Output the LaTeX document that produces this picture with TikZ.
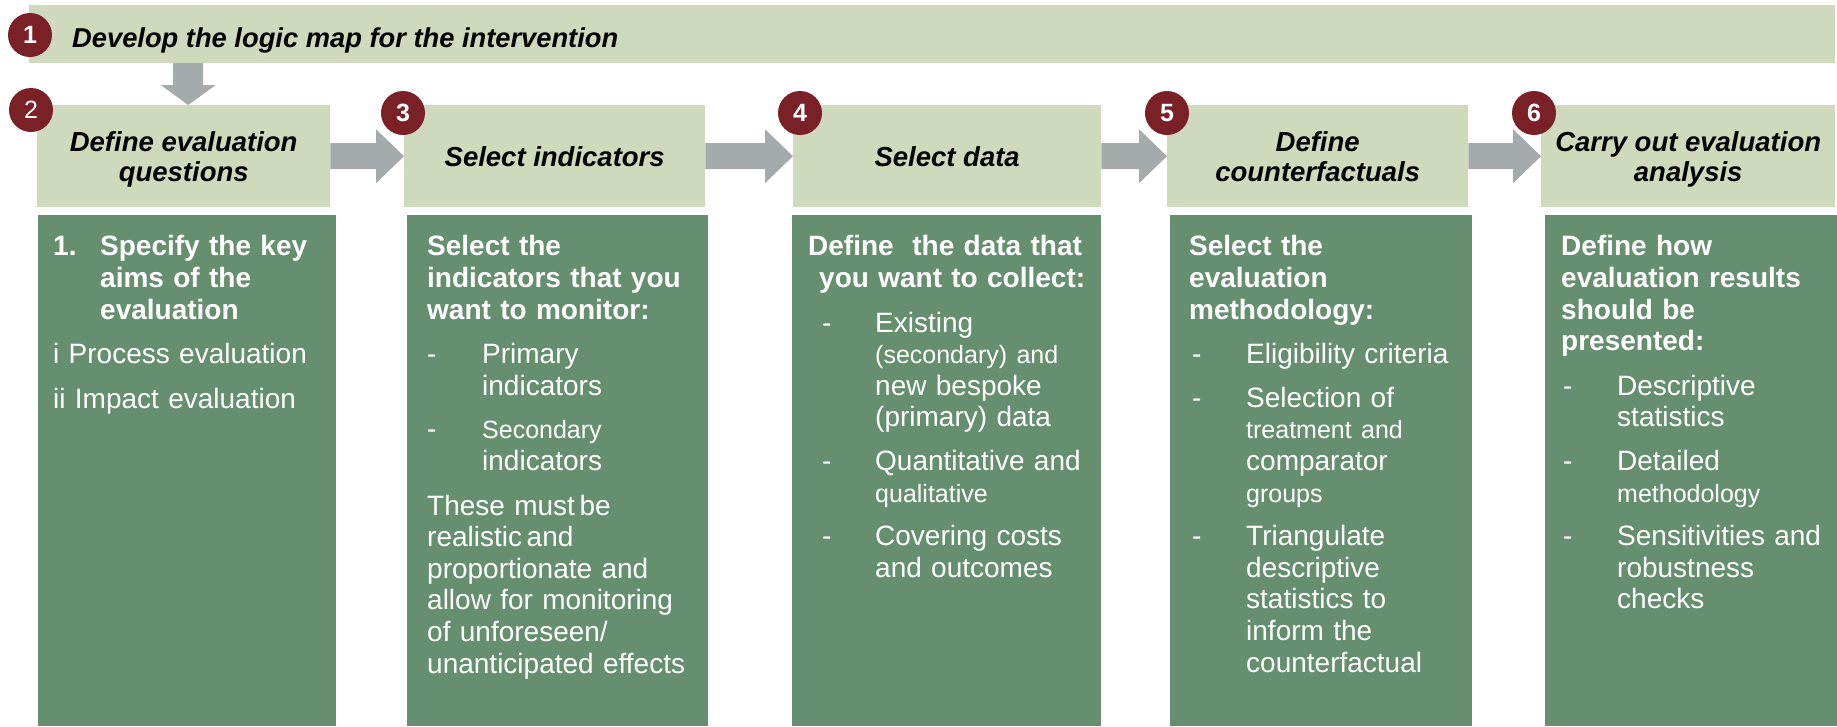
\documentclass[tikz,border=0pt]{standalone}
\usepackage{fontspec}
\setmainfont{Liberation Sans}
\usetikzlibrary{calc}

\definecolor{sage}{HTML}{CFDABD}
\definecolor{leaf}{HTML}{658F6F}
\definecolor{wine}{HTML}{7A2027}
\definecolor{slate}{HTML}{A5AAAD}

\newlength\dshoff
\newlength\txtoff
\newcommand\dsh{\hspace*{\dshoff}\makebox[\dimexpr\txtoff-\dshoff\relax][l]{-}}
\newcommand\hng{\hspace*{\txtoff}}
\newcommand\smtxt[1]{{\fontsize{25}{31.6}\selectfont #1}}
\newcommand\nodepth[1]{\raisebox{0pt}[\height][0pt]{#1}}
\newcommand\flow[2]{\fill[slate] ($(#1.east)+(0,13)$) -- ($(#2.west)+(-28,13)$) -- ($(#2.west)+(-28,27)$) -- (#2.west) -- ($(#2.west)+(-28,-27)$) -- ($(#2.west)+(-28,-13)$) -- ($(#1.east)+(0,-13)$) -- cycle;}

\tikzset{
  head/.style={fill=sage, anchor=north west, minimum height=102pt, inner sep=0pt, align=center, font=\fontsize{27.5}{30}\selectfont\bfseries\itshape},
  body/.style={fill=leaf, anchor=north west, minimum height=511pt, inner sep=0pt},
  btext/.style={anchor=north west, inner sep=0pt, align=left, text=white, font=\fontsize{28}{31.6}\selectfont},
  num/.style={circle, fill=wine, minimum size=44pt, inner sep=0pt, text=white, font=\fontsize{25}{25}\selectfont\bfseries}
}

\begin{document}
\begin{tikzpicture}[x=1pt, y=-1pt]
\useasboundingbox (0,0) rectangle (1837,726);

\node[fill=sage, anchor=north west, minimum width=1806pt, minimum height=58pt, inner sep=0pt] (logic) at (29,5) {};
\node[anchor=base west, inner sep=0pt, font=\fontsize{27.3}{30}\selectfont\bfseries\itshape] (logict) at (72,47) {Develop the logic map for the intervention};

\node[head, minimum width=293pt] (h2) at (37,105) {Define evaluation\\\nodepth{questions}};
\node[head, minimum width=301pt] (h3) at (404,105) {Select indicators};
\node[head, minimum width=308pt] (h4) at (793,105) {Select data};
\node[head, minimum width=301pt] (h5) at (1167,105) {Define\\counterfactuals};
\node[head, minimum width=294pt] (h6) at (1541,105) {Carry out evaluation\\\nodepth{analysis}};

\coordinate (tip) at ([xshift=4.5pt]h2.north);
\fill[slate] (tip) -- ++(27.5,-20) -- ++(-12.5,0) -- ++(0,-22) -- ++(-30,0) -- ++(0,22) -- ++(-12.5,0) -- cycle;

\flow{h2}{h3}
\flow{h3}{h4}
\flow{h4}{h5}
\flow{h5}{h6}

\node[body, minimum width=298pt] (b2) at (38,215) {};
\node[body, minimum width=301pt] (b3) at (407,215) {};
\node[body, minimum width=309pt] (b4) at (792,215) {};
\node[body, minimum width=302pt] (b5) at (1170,215) {};
\node[body, minimum width=292pt] (b6) at (1545,215) {};

\node[btext, text width=283pt] (t2) at ([xshift=15pt,yshift=-20.5pt]b2.north west) {%
  \bfseries\makebox[47pt][l]{1.}Specify the key\\
  \hspace*{47pt}aims of the\\
  \hspace*{47pt}evaluation\\[13pt]
  \mdseries i Process evaluation\\[13pt]
  ii Impact evaluation};

\node[btext, text width=281pt] (t3) at ([xshift=20pt,yshift=-20.5pt]b3.north west) {%
  \setlength\dshoff{0pt}\setlength\txtoff{55pt}%
  \textbf{Select the}\\
  \textbf{indicators that you}\\
  \textbf{want to monitor:}\\[13pt]
  \dsh Primary\\
  \hng indicators\\[12pt]
  \dsh\smtxt{Secondary}\\
  \hng indicators\\[13pt]
  These must\,be\\
  realistic\,and\\
  proportionate and\\
  allow for monitoring\\
  of unforeseen/\\
  unanticipated effects};

\node[btext, text width=293pt] (t4) at ([xshift=16pt,yshift=-20.5pt]b4.north west) {%
  \setlength\dshoff{14pt}\setlength\txtoff{67pt}%
  \textbf{Define \ the data that}\\
  \hspace*{11pt}\textbf{you want to collect:}\\[13pt]
  \dsh Existing\\
  \hng\smtxt{(secondary) and}\\
  \hng new bespoke\\
  \hng (primary) data\\[12pt]
  \dsh Quantitative and\\
  \hng\smtxt{qualitative}\\[12pt]
  \dsh Covering costs\\
  \hng and outcomes};

\node[btext, text width=283pt] (t5) at ([xshift=19pt,yshift=-20.5pt]b5.north west) {%
  \setlength\dshoff{3pt}\setlength\txtoff{57pt}%
  \textbf{Select the}\\
  \textbf{evaluation}\\
  \textbf{methodology:}\\[13pt]
  \dsh Eligibility criteria\\[12pt]
  \dsh Selection of\\
  \hng\smtxt{treatment and}\\
  \hng comparator\\
  \hng\smtxt{groups}\\[12pt]
  \dsh Triangulate\\
  \hng descriptive\\
  \hng statistics to\\
  \hng inform the\\
  \hng counterfactual};

\node[btext, text width=276pt] (t6) at ([xshift=16pt,yshift=-20.5pt]b6.north west) {%
  \setlength\dshoff{2pt}\setlength\txtoff{56pt}%
  \textbf{Define how}\\
  \textbf{evaluation results}\\
  \textbf{should be}\\
  \textbf{presented:}\\[13pt]
  \dsh Descriptive\\
  \hng statistics\\[12pt]
  \dsh Detailed\\
  \hng\smtxt{methodology}\\[12pt]
  \dsh Sensitivities and\\
  \hng robustness\\
  \hng checks};

\node[num] (n1) at (30,35) {1};
\node[num, font=\fontsize{25}{25}\selectfont] (n2) at (31,110) {2};
\node[num] (n3) at (403,113) {3};
\node[num] (n4) at (800,113) {4};
\node[num] (n5) at (1167,113) {5};
\node[num] (n6) at (1534,113) {6};
\end{tikzpicture}
\end{document}
